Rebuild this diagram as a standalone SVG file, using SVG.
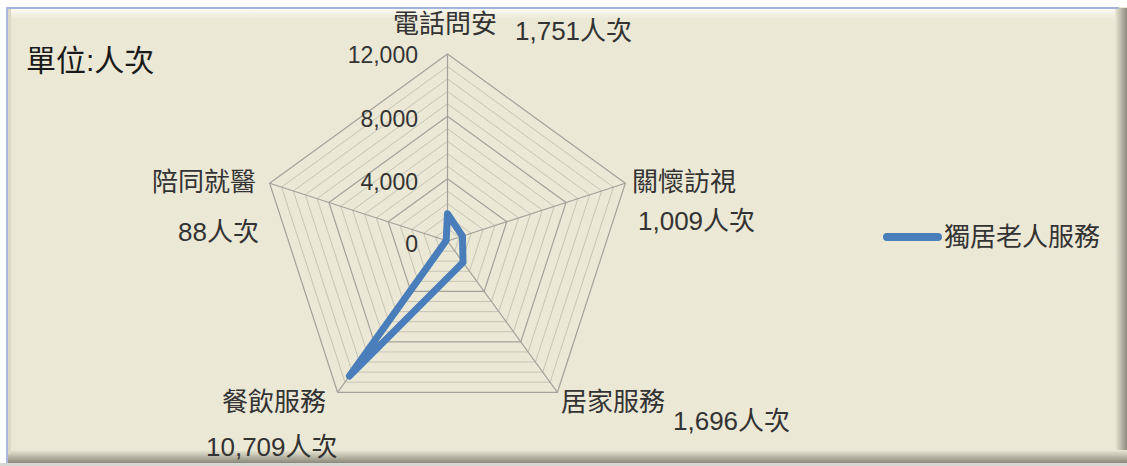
<svg xmlns="http://www.w3.org/2000/svg" width="1127" height="466" viewBox="0 0 1127 466">
<defs>
<linearGradient id="gTop" x1="0" y1="0" x2="0" y2="1"><stop offset="0" stop-color="#FBFAF0"/><stop offset="1" stop-color="#EBE8D6"/></linearGradient>
<linearGradient id="gRight" x1="0" y1="0" x2="1" y2="0"><stop offset="0" stop-color="#EBE8D6"/><stop offset="1" stop-color="#8E8D7E"/></linearGradient>
<linearGradient id="gBottom" x1="0" y1="0" x2="0" y2="1"><stop offset="0" stop-color="#EBE8D6"/><stop offset="1" stop-color="#8A897A"/></linearGradient>
<style>
.minor{fill:none;stroke:#C6C4B6;stroke-width:1}
.major{fill:none;stroke:#A3A29A;stroke-width:1.2}
.spoke{stroke:#A3A29A;stroke-width:1.2}
.t{font-family:"Liberation Sans","Noto Sans CJK TC",sans-serif;fill:#333}
.lab{font-size:26px}
.ax{font-size:23px;text-anchor:end}
.series{fill:none;stroke:#4A7EBB;stroke-width:7;stroke-linejoin:round;stroke-linecap:round}
</style>
</defs>
<g id="frame">
<rect x="0" y="0" width="1127" height="466" fill="#FFFFFF"/>
<rect x="7" y="7" width="1120" height="456" fill="#EBE8D6"/>
<rect x="8" y="9" width="1110" height="10" fill="url(#gTop)"/>
<rect x="1115" y="8" width="12" height="455" fill="url(#gRight)"/>
<rect x="8" y="450" width="1119" height="13" fill="url(#gBottom)"/>
<rect x="0" y="463" width="1127" height="3" fill="#D6D6D2"/>
<rect x="7" y="7" width="1112" height="2" fill="#A3B3DE"/>
<rect x="6" y="7" width="2" height="456" fill="#A9B7DE"/>
<rect x="8" y="9" width="3" height="445" fill="#DCD9C6"/>
</g>
<g id="grid" transform="translate(447.5,241)">
<polygon class="minor" points="0,-12.47 11.86,-3.85 7.33,10.09 -7.33,10.09 -11.86,-3.85"/>
<polygon class="minor" points="0,-24.93 23.71,-7.70 14.66,20.17 -14.66,20.17 -23.71,-7.70"/>
<polygon class="minor" points="0,-37.4 35.57,-11.56 21.98,30.26 -21.98,30.26 -35.57,-11.56"/>
<polygon class="minor" points="0,-49.87 47.43,-15.41 29.31,40.34 -29.31,40.34 -47.43,-15.41"/>
<polygon class="minor" points="0,-74.8 71.14,-23.11 43.97,60.51 -43.97,60.51 -71.14,-23.11"/>
<polygon class="minor" points="0,-87.27 83.0,-26.97 51.29,70.60 -51.29,70.60 -83.0,-26.97"/>
<polygon class="minor" points="0,-99.73 94.85,-30.82 58.62,80.69 -58.62,80.69 -94.85,-30.82"/>
<polygon class="minor" points="0,-112.2 106.71,-34.67 65.95,90.77 -65.95,90.77 -106.71,-34.67"/>
<polygon class="minor" points="0,-137.13 130.42,-42.38 80.61,110.94 -80.61,110.94 -130.42,-42.38"/>
<polygon class="minor" points="0,-149.6 142.28,-46.23 87.93,121.03 -87.93,121.03 -142.28,-46.23"/>
<polygon class="minor" points="0,-162.07 154.14,-50.08 95.26,131.12 -95.26,131.12 -154.14,-50.08"/>
<polygon class="minor" points="0,-174.53 165.99,-53.93 102.59,141.20 -102.59,141.20 -165.99,-53.93"/>
<polygon class="major" points="0,-62.33 59.28,-19.26 36.64,50.43 -36.64,50.43 -59.28,-19.26"/>
<polygon class="major" points="0,-124.67 118.57,-38.52 73.28,100.86 -73.28,100.86 -118.57,-38.52"/>
<polygon class="major" points="0,-187 177.85,-57.79 109.92,151.29 -109.92,151.29 -177.85,-57.79"/>
<line class="spoke" x1="0" y1="0" x2="0" y2="-187"/>
<line class="spoke" x1="0" y1="0" x2="177.85" y2="-57.79"/>
<line class="spoke" x1="0" y1="0" x2="109.92" y2="151.29"/>
<line class="spoke" x1="0" y1="0" x2="-109.92" y2="151.29"/>
<line class="spoke" x1="0" y1="0" x2="-177.85" y2="-57.79"/>
</g>
<g id="axis-labels" class="t">
<text class="ax" x="418" y="63">12,000</text>
<text class="ax" x="418" y="127">8,000</text>
<text class="ax" x="418" y="190">4,000</text>
<text class="ax" x="418" y="252">0</text>
</g>
<g id="connectors">
<polygon id="series-line" class="series" transform="translate(447.5,241)" points="0,-27.29 14.95,-4.86 15.54,21.38 -98.09,135.01 -1.30,-0.42"/>
</g>
<g id="title"><text class="t" x="26" y="71" style="font-size:30px;fill:#1A1A1A">單位:人次</text></g>
<g id="node-phone"><text class="t lab" x="393" y="33">電話問安</text><text class="t lab" x="515" y="40">1,751人次</text></g>
<g id="node-visit"><text class="t lab" x="632" y="191">關懷訪視</text><text class="t lab" x="638" y="230">1,009人次</text></g>
<g id="node-home"><text class="t lab" x="561" y="411">居家服務</text><text class="t lab" x="673" y="430">1,696人次</text></g>
<g id="node-meal"><text class="t lab" x="222" y="411">餐飲服務</text><text class="t lab" x="206" y="456">10,709人次</text></g>
<g id="node-medical"><text class="t lab" x="152" y="191">陪同就醫</text><text class="t lab" x="178" y="241">88人次</text></g>
<g id="legend">
<line x1="887" y1="237" x2="938" y2="237" stroke="#4A7EBB" stroke-width="8" stroke-linecap="round"/>
<text class="t lab" x="944" y="246">獨居老人服務</text>
</g>
</svg>
